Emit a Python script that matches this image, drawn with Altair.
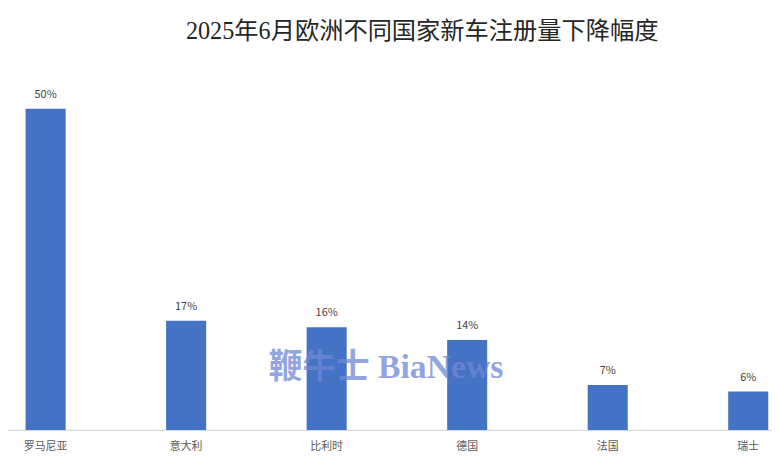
import altair as alt
import pandas as pd

countries = ["罗马尼亚", "意大利", "比利时", "德国", "法国", "瑞士"]
declines = [50, 17, 16, 14, 7, 6]
labels = ["50%", "17%", "16%", "14%", "7%", "6%"]

df = pd.DataFrame({"country": countries, "value": declines, "label": labels})

FONT_CJK = "Noto Sans CJK SC"

x_enc = alt.X("country:N", sort=countries,
              scale=alt.Scale(range=[-33, 819], paddingInner=0.715, paddingOuter=0.3575),
              axis=alt.Axis(title=None, labelAngle=0, ticks=False, labelPadding=11,
                            labelFont=FONT_CJK, labelFontSize=11, labelColor="#595959",
                            domainColor="#d9d9d9", domainWidth=1.2))
y_enc = alt.Y("value:Q", scale=alt.Scale(domain=[0, 55], nice=False), axis=None)

bars = alt.Chart(df).mark_bar(color="#4472C4").encode(x=x_enc, y=y_enc)
text = alt.Chart(df).mark_text(dy=-14, font=FONT_CJK, fontSize=11, color="#404040").encode(
    x=alt.X("country:N", sort=countries), y="value:Q", text="label:N")

wm = alt.Chart(pd.DataFrame({"t": ["鞭牛士 BiaNews"]})).mark_text(
    font="Liberation Serif, Noto Sans CJK SC", fontSize=34, fontWeight="bold",
    color="#7088d4", opacity=0.75).encode(
    x=alt.value(382), y=alt.value(294), text="t:N")

chart = alt.layer(bars, text, wm).properties(
    width=771, height=357,
    background="white",
    title=alt.TitleParams("2025年6月欧洲不同国家新车注册量下降幅度",
                          font="Liberation Serif, Noto Sans CJK SC", fontSize=24.5,
                          fontWeight="normal", color="#262626", anchor="middle",
                          dx=33, offset=33),
    autosize=alt.AutoSizeParams(type="none"),
    padding={"left": 0, "top": 67, "right": 0, "bottom": 30},
).configure_view(stroke=None)

chart.save("out.html", embed_options={"renderer": "svg", "actions": False})
